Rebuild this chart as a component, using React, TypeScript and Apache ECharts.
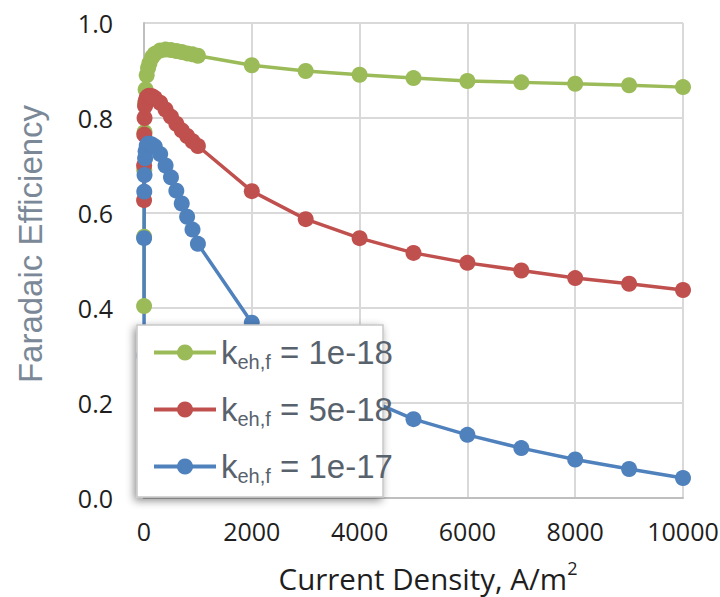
import React, { useEffect, useRef } from "react";
import * as echarts from "echarts";

// Current density (A/m^2) at which the faradaic efficiency was evaluated
const currentDensity = [
  1, 2, 5, 10, 20, 30, 50, 75, 100, 150, 200, 300, 400, 500, 600, 700, 800,
  900, 1000, 2000, 3000, 4000, 5000, 6000, 7000, 8000, 9000, 10000,
];

// Faradaic efficiency for each electron-hole recombination constant k_eh,f
const feK1e18 = [
  0.404, 0.55, 0.69, 0.77, 0.83, 0.86, 0.89, 0.905, 0.915, 0.928, 0.935,
  0.942, 0.944, 0.943, 0.941, 0.939, 0.936, 0.934, 0.931, 0.911, 0.899, 0.891,
  0.884, 0.878, 0.875, 0.872, 0.869, 0.865,
];
const feK5e18 = [
  0.627, 0.7, 0.765, 0.8, 0.825, 0.835, 0.843, 0.846, 0.847, 0.846, 0.842,
  0.832, 0.818, 0.803, 0.788, 0.774, 0.762, 0.751, 0.741, 0.646, 0.587, 0.547,
  0.516, 0.495, 0.479, 0.463, 0.451, 0.438,
];
const feK1e17 = [
  0.3, 0.547, 0.645, 0.68, 0.715, 0.73, 0.742, 0.746, 0.746, 0.744, 0.74,
  0.724, 0.7, 0.675, 0.647, 0.62, 0.592, 0.565, 0.535, 0.369, 0.28, 0.215,
  0.166, 0.133, 0.105, 0.081, 0.061, 0.042,
];

const seriesNames = ["1e-18", "5e-18", "1e-17"];
const seriesValues = [feK1e18, feK5e18, feK1e17];
const seriesColors = ["#9bbb59", "#c0504d", "#4f81bd"];

const xMin = 0;
const xMax = 10000;
const xStep = 2000;
const yMin = 0;
const yMax = 1;
const yStep = 0.2;

const tickFont = "'Open Sans', 'Liberation Sans', sans-serif";
const labelFont = "'Liberation Sans', Arial, sans-serif";

export default function App() {
  const ref = useRef<HTMLDivElement>(null);

  useEffect(() => {
    if (!ref.current) return;
    const chart = echarts.init(ref.current, undefined, { renderer: "svg" });

    const series = seriesNames.map((name, i) => ({
      name,
      type: "line",
      data: currentDensity.map((x, j) => [x, seriesValues[i][j]]),
      symbol: "circle",
      symbolSize: 16,
      clip: false,
      color: seriesColors[i],
      itemStyle: { color: seriesColors[i], borderWidth: 0 },
      lineStyle: { color: seriesColors[i], width: 3.5 },
      emphasis: { disabled: true },
      z: 2,
    }));

    chart.setOption({
      animation: false,
      backgroundColor: "#ffffff",
      grid: {
        left: 144,
        right: 37,
        top: 23,
        bottom: 99,
        containLabel: false,
        outerBoundsMode: "none",
      },
      xAxis: {
        type: "value",
        min: xMin,
        max: xMax,
        interval: xStep,
        axisLine: { show: true, lineStyle: { color: "#bfbfbf", width: 2 } },
        axisTick: { show: false },
        splitLine: { show: true, lineStyle: { color: "#d9d9d9", width: 2 } },
        axisLabel: {
          fontFamily: tickFont,
          fontSize: 25,
          color: "#1e1e1e",
          margin: 20,
          formatter: (v: number) => String(v),
        },
      },
      yAxis: {
        type: "value",
        min: yMin,
        max: yMax,
        interval: yStep,
        axisLine: { show: true, lineStyle: { color: "#bfbfbf", width: 2 } },
        axisTick: { show: false },
        splitLine: { show: true, lineStyle: { color: "#d9d9d9", width: 2 } },
        axisLabel: {
          fontFamily: tickFont,
          fontSize: 25,
          color: "#1e1e1e",
          margin: 31,
          formatter: (v: number) => v.toFixed(1),
        },
      },
      legend: {
        orient: "vertical",
        left: 152,
        top: 336,
        padding: 0,
        itemWidth: 62,
        itemHeight: 20,
        itemGap: 21.5,
        selectedMode: false,
        data: seriesNames,
        lineStyle: { width: 4 },
        formatter: (name: string) => `{k|k}{s|eh,f}{k| = ${name}}`,
        textStyle: {
          color: "#58626d",
          fontFamily: labelFont,
          fontSize: 33,
          rich: {
            k: {
              fontFamily: labelFont,
              fontSize: 33,
              lineHeight: 38,
              color: "#58626d",
            },
            s: {
              fontFamily: labelFont,
              fontSize: 20,
              lineHeight: 19,
              verticalAlign: "bottom",
              color: "#58626d",
            },
          },
        },
        z: 4,
      },
      graphic: {
        elements: [
          {
            type: "rect",
            z: 3,
            shape: { x: 137, y: 325, width: 246, height: 172 },
            style: {
              fill: "#ffffff",
              stroke: "#c8c8c8",
              lineWidth: 1.5,
              shadowBlur: 8,
              shadowOffsetX: -2,
              shadowOffsetY: 3,
              shadowColor: "rgba(0,0,0,0.45)",
            },
          },
          {
            type: "text",
            z: 5,
            x: 30,
            y: 244,
            rotation: Math.PI / 2,
            style: {
              text: "Faradaic Efficiency",
              fill: "#7a8897",
              fontFamily: labelFont,
              fontSize: 33,
              align: "center",
              verticalAlign: "middle",
            },
          },
          {
            type: "text",
            z: 5,
            x: 428,
            y: 578,
            style: {
              text: "{a|Current Density, A/m}{b|2}",
              fill: "#1e1e1e",
              align: "center",
              verticalAlign: "middle",
              rich: {
                a: {
                  fontFamily: tickFont,
                  fontSize: 29.5,
                  lineHeight: 38,
                  fill: "#1e1e1e",
                },
                b: {
                  fontFamily: tickFont,
                  fontSize: 18,
                  lineHeight: 22,
                  verticalAlign: "top",
                  fill: "#1e1e1e",
                },
              },
            },
          },
        ],
      },
      series,
    });

    return () => {
      chart.dispose();
    };
  }, []);

  return (
    <div
      ref={ref}
      style={{
        position: "fixed",
        left: 0,
        top: 0,
        width: 720,
        height: 597,
        background: "#ffffff",
      }}
    />
  );
}
